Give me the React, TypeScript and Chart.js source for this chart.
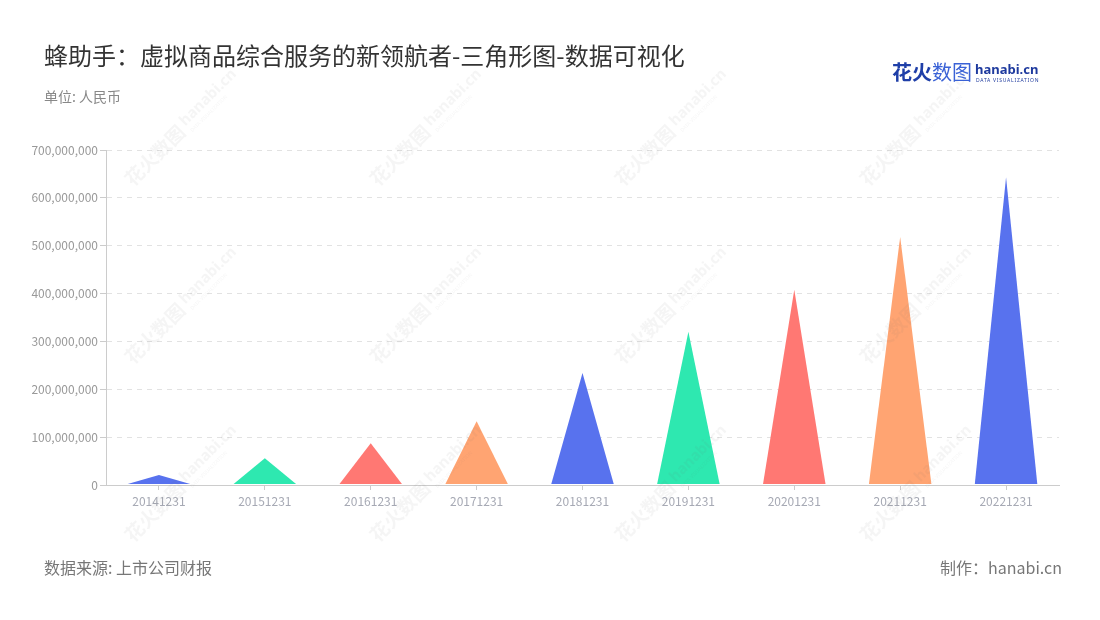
import React, { useEffect, useRef } from 'react';
import { Chart, registerables } from 'chart.js';

Chart.register(...registerables);

const categories = ['20141231', '20151231', '20161231', '20171231', '20181231', '20191231', '20201231', '20211231', '20221231'];
const revenue = [21000000, 56000000, 87000000, 133000000, 234000000, 320000000, 408000000, 518000000, 643000000];
const barColors = ['#5872ee', '#2ee8b0', '#ff7873', '#ffa472', '#5872ee', '#2ee8b0', '#ff7873', '#ffa472', '#5872ee'];
const yMax = 700000000;
const yStep = 100000000;

const FONT = '"Noto Sans CJK SC", "Noto Sans", sans-serif';

const trianglePlugin = {
  id: 'triangles',
  afterDatasetsDraw(chart: any) {
    const meta = chart.getDatasetMeta(0);
    const ctx = chart.ctx;
    meta.data.forEach((bar: any, i: number) => {
      const p = bar.getProps(['x', 'y', 'base', 'width'], true);
      const half = p.width / 2;
      const b = p.base - 0.5;
      ctx.save();
      ctx.fillStyle = barColors[i % barColors.length];
      ctx.beginPath();
      ctx.moveTo(p.x - half, b);
      ctx.lineTo(p.x, p.y);
      ctx.lineTo(p.x + half, b);
      ctx.closePath();
      ctx.fill();
      ctx.restore();
    });
  },
};

const wmCols = [183, 428, 673, 918];
const wmRows = [127, 305, 483];

const watermarkPlugin = {
  id: 'watermark',
  afterDraw(chart: any) {
    const ctx = chart.ctx;
    ctx.save();
    ctx.fillStyle = 'rgba(120,120,120,0.07)';
    wmRows.forEach((cy) => {
      wmCols.forEach((cx) => {
        ctx.save();
        ctx.translate(cx, cy);
        ctx.rotate(-Math.PI / 4);
        ctx.textBaseline = 'middle';
        ctx.font = `bold 19px ${FONT}`;
        ctx.fillText('花火数图', -78, 0);
        ctx.font = `bold 15px "Noto Sans", sans-serif`;
        ctx.fillText('hanabi.cn', 2, -3);
        ctx.font = `5px "Noto Sans", sans-serif`;
        ctx.fillText('DATA VISUALIZATION', 3, 9);
        ctx.restore();
      });
    });
    ctx.restore();
  },
};

export default function App() {
  const canvasRef = useRef<HTMLCanvasElement | null>(null);

  useEffect(() => {
    if (!canvasRef.current) return;
    const chart = new Chart(canvasRef.current, {
      type: 'bar',
      data: {
        labels: categories,
        datasets: [
          {
            data: revenue,
            backgroundColor: 'rgba(0,0,0,0)',
            borderWidth: 0,
            barPercentage: 0.59,
            categoryPercentage: 1,
          },
        ],
      },
      options: {
        responsive: false,
        animation: false,
        layout: { padding: { top: 150, right: 41, left: 0, bottom: 0 } },
        plugins: {
          legend: { display: false },
          tooltip: { enabled: false },
        },
        scales: {
          x: {
            grid: {
              display: true,
              drawOnChartArea: false,
              offset: false,
              color: '#cccccc',
              tickLength: 5,
            },
            border: { color: '#cccccc', width: 1 },
            ticks: {
              color: '#a6a9b4',
              font: { size: 12, family: FONT },
              padding: 4,
              maxRotation: 0,
              autoSkip: false,
            },
            afterFit: (s: any) => {
              s.height = 135;
            },
          },
          y: {
            min: 0,
            max: yMax,
            ticks: {
              stepSize: yStep,
              color: '#999999',
              font: { size: 12, family: FONT },
              padding: 2,
              callback: (v: any) => Number(v).toLocaleString('en-US'),
            },
            grid: {
              color: '#e2e2e2',
              tickLength: 6,
              tickColor: '#cccccc',
            },
            border: { color: '#cccccc', width: 1, dash: [5, 5] },
            afterFit: (s: any) => {
              s.width = 106;
            },
          },
        },
      },
      plugins: [trianglePlugin, watermarkPlugin],
    });
    return () => chart.destroy();
  }, []);

  return (
    <div style={{ position: 'fixed', left: 0, top: 0, width: 1100, height: 620, background: '#fff', overflow: 'hidden', fontFamily: FONT }}>
      <canvas ref={canvasRef} width={1100} height={620} style={{ position: 'absolute', left: 0, top: 0, width: 1100, height: 620 }} />
      <div style={{ position: 'absolute', left: 44, top: 40, fontSize: 24, lineHeight: '30px', color: '#333333', whiteSpace: 'nowrap' }}>
        蜂助手：虚拟商品综合服务的新领航者-三角形图-数据可视化
      </div>
      <div style={{ position: 'absolute', left: 44, top: 86, fontSize: 14, lineHeight: '20px', color: '#888888', whiteSpace: 'nowrap' }}>
        单位: 人民币
      </div>
      <div style={{ position: 'absolute', left: 892, top: 58, whiteSpace: 'nowrap' }}>
        <span style={{ fontSize: 20, lineHeight: '28px', fontWeight: 700, color: '#1f3fa8' }}>花火</span>
        <span style={{ fontSize: 20, lineHeight: '28px', fontWeight: 400, color: '#3a62d6' }}>数图</span>
      </div>
      <div style={{ position: 'absolute', left: 975, top: 61, fontFamily: '"Noto Sans", sans-serif', fontSize: 13, lineHeight: '17px', fontWeight: 700, color: '#1e3a9e', whiteSpace: 'nowrap' }}>
        hanabi.cn
      </div>
      <div style={{ position: 'absolute', left: 976, top: 77, fontFamily: '"Noto Sans", sans-serif', fontSize: 5, lineHeight: '6px', letterSpacing: '0.75px', color: '#1e3a9e', whiteSpace: 'nowrap' }}>
        DATA VISUALIZATION
      </div>
      <div style={{ position: 'absolute', left: 44, top: 556, fontSize: 16, lineHeight: '22px', color: '#777777', whiteSpace: 'nowrap' }}>
        数据来源: 上市公司财报
      </div>
      <div style={{ position: 'absolute', right: 38, top: 556, fontSize: 16, lineHeight: '22px', color: '#777777', whiteSpace: 'nowrap' }}>
        制作：hanabi.cn
      </div>
    </div>
  );
}
